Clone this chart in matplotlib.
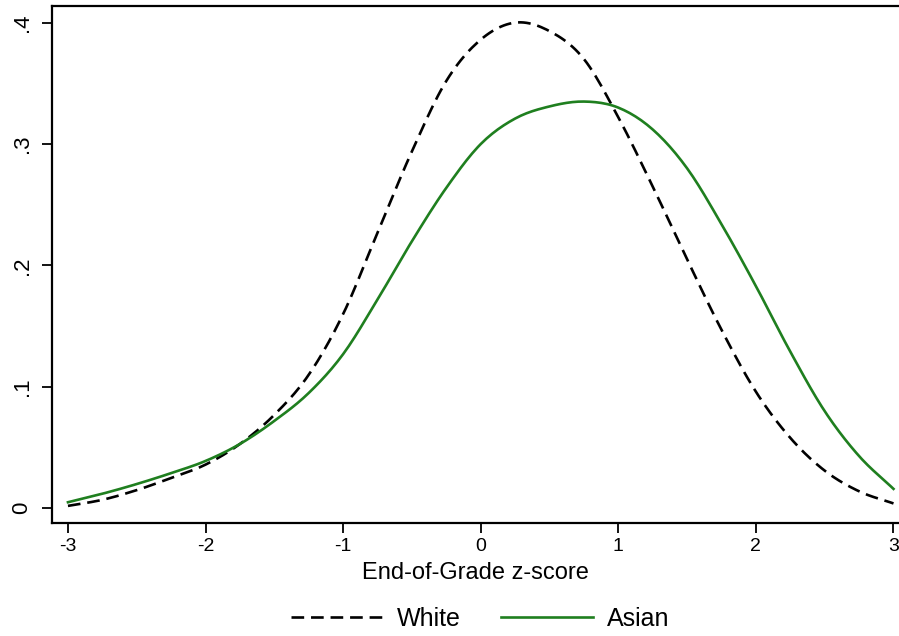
import numpy as np
import matplotlib
matplotlib.use("Agg")
import matplotlib.pyplot as plt

plt.rcParams['font.family'] = ['Liberation Sans', 'DejaVu Sans']

# z-score grid
z = [-3.0, -2.75, -2.5, -2.25, -2.0, -1.75, -1.5, -1.25, -1.0, -0.75, -0.5, -0.25,
     0.0, 0.25, 0.5, 0.75, 1.0, 1.25, 1.5, 1.75, 2.0, 2.25, 2.5, 2.75, 3.0]

white = [0.002, 0.007, 0.015, 0.025, 0.036, 0.053, 0.077, 0.110, 0.160, 0.227, 0.294, 0.352,
         0.386, 0.400, 0.393, 0.370, 0.322, 0.265, 0.205, 0.147, 0.096, 0.058, 0.031, 0.014, 0.004]

asian = [0.005, 0.012, 0.020, 0.029, 0.039, 0.053, 0.072, 0.095, 0.127, 0.172, 0.220, 0.264,
         0.300, 0.321, 0.331, 0.335, 0.330, 0.312, 0.280, 0.234, 0.183, 0.129, 0.080, 0.043, 0.016]

xticks = [-3, -2, -1, 0, 1, 2, 3]
yticks = [0, 0.1, 0.2, 0.3, 0.4]
ytick_labels = ["0", ".1", ".2", ".3", ".4"]
series_names = ["White", "Asian"]
xlabel = "End-of-Grade z-score"


def smooth(x, y, n=12):
    """Cubic Hermite drawing through the read points."""
    x = np.asarray(x, float)
    y = np.asarray(y, float)
    m = np.gradient(y, x)
    xs, ys = [], []
    for i in range(len(x) - 1):
        h = x[i + 1] - x[i]
        t = np.linspace(0, 1, n, endpoint=False)
        h00 = 2 * t**3 - 3 * t**2 + 1
        h10 = t**3 - 2 * t**2 + t
        h01 = -2 * t**3 + 3 * t**2
        h11 = t**3 - t**2
        xs.append(x[i] + t * h)
        ys.append(h00 * y[i] + h10 * h * m[i] + h01 * y[i + 1] + h11 * h * m[i + 1])
    xs.append([x[-1]])
    ys.append([y[-1]])
    return np.concatenate(xs), np.concatenate(ys)


fig = plt.figure(figsize=(8.99, 6.36), dpi=100)
ax = fig.add_axes([52 / 899, 1 - 523 / 636, 1 - 52 / 899, (523 - 6) / 636])

green = '#1f7f1f'
xw, yw = smooth(z, white)
xa, ya = smooth(z, asian)
lw_line, = ax.plot(xw, yw, color='black', lw=1.9, linestyle=(0, (4.8, 2.6)),
                   label=series_names[0])
la_line, = ax.plot(xa, ya, color=green, lw=1.9, label=series_names[1])

ax.set_xlim(-3.116, 3.04)
ax.set_ylim(-0.0121, 0.4137)

ax.set_xticks(xticks)
ax.set_xticklabels([str(v) for v in xticks], fontsize=14)
ax.set_yticks(yticks)
ax.set_yticklabels(ytick_labels, fontsize=16, rotation=90, va='center')
ax.tick_params(axis='both', direction='out', length=7, width=1.3, colors='black')
ax.tick_params(axis='x', pad=4)
ax.tick_params(axis='y', pad=7)

for s in ['left', 'top', 'bottom']:
    ax.spines[s].set_linewidth(1.6)
ax.spines['right'].set_visible(False)

ax.set_xlabel(xlabel, fontsize=17, labelpad=5)

fig.legend(handles=[lw_line, la_line], loc='center',
           bbox_to_anchor=(480 / 899, 1 - 619 / 636), ncol=2, frameon=False,
           fontsize=18, handlelength=3.7, handletextpad=0.55, columnspacing=1.6)

fig.savefig("out.png", dpi=100, facecolor='white')
